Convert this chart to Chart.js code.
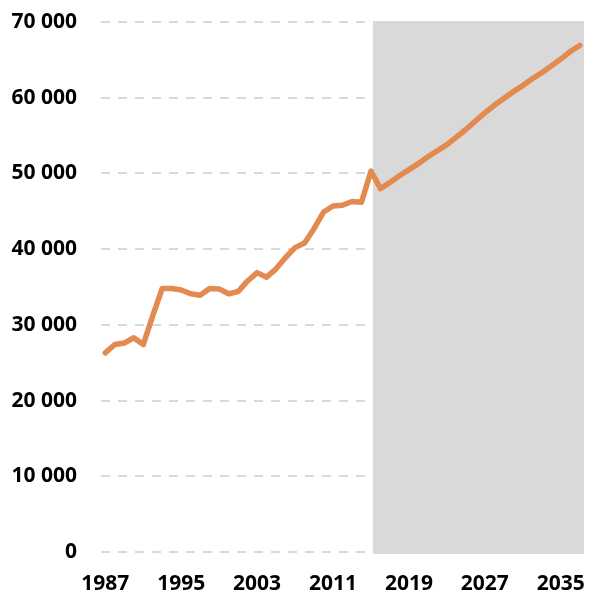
<!DOCTYPE html>
<html>
<head>
<meta charset="utf-8">
<script src="https://cdn.jsdelivr.net/npm/chart.js@4/dist/chart.umd.min.js"></script>
<style>
  html, body { margin: 0; padding: 0; background: #fff; }
  #wrap { width: 589px; height: 592px; position: relative; }
</style>
</head>
<body>
<div id="wrap"><canvas id="c"></canvas></div>
<script>
// ---- data ----
const years = [];
for (let y = 1987; y <= 2037; y++) years.push(y);

const values = [
  26300, 27400, 27600, 28300, 27400, 31200, 34800, 34800, 34600, 34100, // 1987-1996
  33900, 34800, 34750, 34100, 34400, 35800, 36900, 36300, 37400, 38900, // 1997-2006
  40200, 40800, 42700, 44900, 45700, 45800, 46300, 46200, 50300, 48000, // 2007-2016
  48800, 49700, 50500, 51300, 52200, 53000, 53800, 54800, 55800, 56900, // 2017-2026
  58000, 59000, 59900, 60800, 61600, 62500, 63300, 64200, 65100, 66100, // 2027-2036
  66900                                                                  // 2037
];

const xTickYears = [1987, 1995, 2003, 2011, 2019, 2027, 2035];
const yTickValues = [0, 10000, 20000, 30000, 40000, 50000, 60000, 70000];
const forecastStart = 2015.2;

// ---- chart ----
const points = years.map((y, i) => ({ x: y, y: values[i] }));

const shadePlugin = {
  id: 'shade',
  beforeDatasetsDraw(chart) {
    const { ctx, chartArea, scales } = chart;
    const x0 = scales.x.getPixelForValue(forecastStart);
    ctx.save();
    ctx.fillStyle = '#d9d9d9';
    ctx.fillRect(x0, chartArea.top - 1, chartArea.right - x0, chartArea.bottom - chartArea.top + 3);
    ctx.restore();
  }
};

const fmt = v => String(v).replace(/\B(?=(\d{3})+(?!\d))/g, ' ');

new Chart(document.getElementById('c'), {
  type: 'line',
  data: {
    datasets: [{
      data: points,
      borderColor: '#E38A50',
      borderWidth: 5.5,
      borderCapStyle: 'round',
      borderJoinStyle: 'round',
      pointRadius: 0,
      fill: false,
      tension: 0
    }]
  },
  options: {
    responsive: true,
    maintainAspectRatio: false,
    animation: false,
    layout: { padding: { top: 22, right: 5, left: 0, bottom: 0 } },
    plugins: { legend: { display: false }, tooltip: { enabled: false } },
    scales: {
      x: {
        type: 'linear',
        min: years[0] - 0.45,
        max: years[years.length - 1] + 0.45,
        afterBuildTicks: s => { s.ticks = xTickYears.map(v => ({ value: v })); },
        afterFit: s => { s.height = 40; s.paddingLeft = 0; s.paddingRight = 0; },
        grid: { display: false, drawTicks: false },
        border: { display: false },
        ticks: {
          padding: 22,
          color: '#000',
          font: { family: '"Open Sans"', size: 21, weight: 'bold', lineHeight: 1 },
          callback: v => String(v),
          maxRotation: 0,
          autoSkip: false
        }
      },
      y: {
        min: 0,
        max: 70000,
        afterBuildTicks: s => { s.ticks = yTickValues.map(v => ({ value: v })); },
        afterFit: s => { s.width = 101; s.paddingTop = 0; s.paddingBottom = 0; },
        grid: {
          color: '#d9d9d9',
          lineWidth: 2,
          drawTicks: false
        },
        border: { display: false, dash: [9, 8] },
        ticks: {
          padding: 24,
          color: '#000',
          font: { family: '"Open Sans"', size: 21, weight: 'bold', lineHeight: 1 },
          callback: v => fmt(v)
        }
      }
    }
  },
  plugins: [shadePlugin]
});
</script>
</body>
</html>
